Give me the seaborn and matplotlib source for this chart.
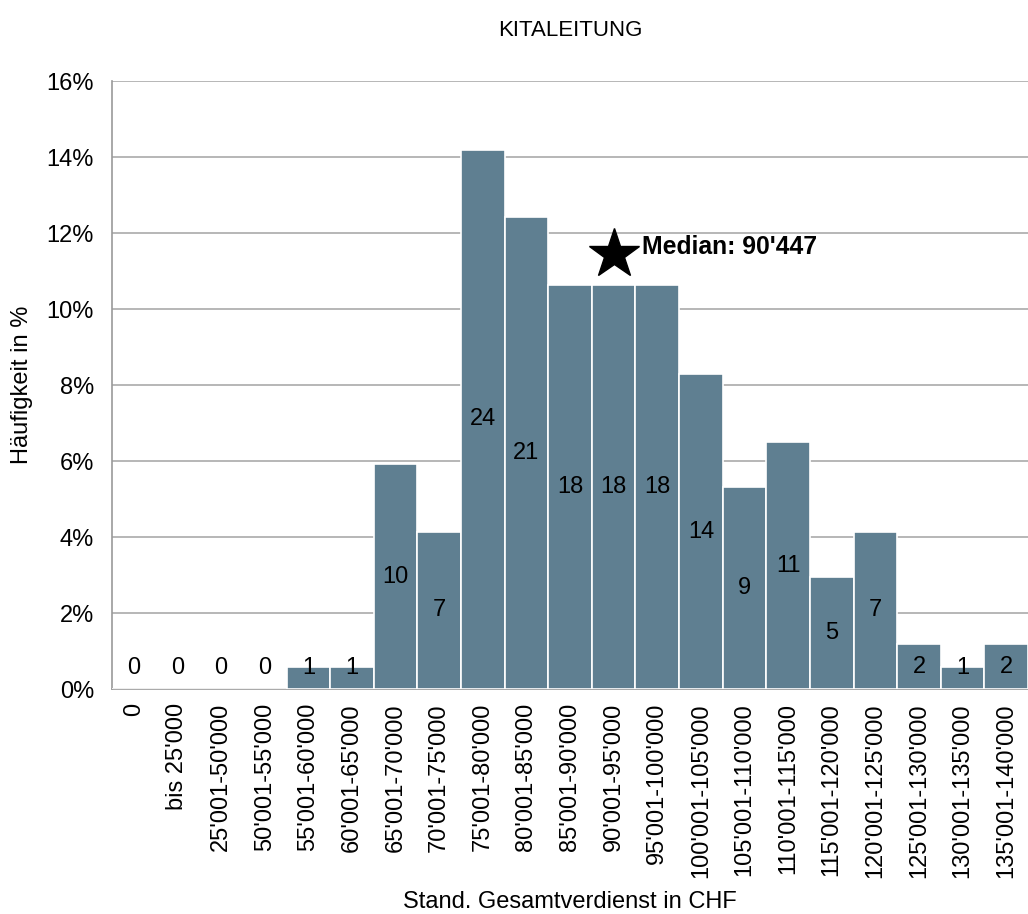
import numpy as np
import pandas as pd
import seaborn as sns
import matplotlib.pyplot as plt

categories = ["0", "bis 25'000", "25'001-50'000", "50'001-55'000", "55'001-60'000",
              "60'001-65'000", "65'001-70'000", "70'001-75'000", "75'001-80'000",
              "80'001-85'000", "85'001-90'000", "90'001-95'000", "95'001-100'000",
              "100'001-105'000", "105'001-110'000", "110'001-115'000", "115'001-120'000",
              "120'001-125'000", "125'001-130'000", "130'001-135'000", "135'001-140'000"]
counts = [0, 0, 0, 0, 1, 1, 10, 7, 24, 21, 18, 18, 18, 14, 9, 11, 5, 7, 2, 1, 2]
median_label = "Median: 90'447"
median_cat = "90'001-95'000"
median_y = 11.45

total = sum(counts)
data = pd.DataFrame({'Klasse': categories,
                     'Anteil': [c / total * 100 for c in counts],
                     'n': counts})

sns.set_style('white')
plt.rcParams['font.family'] = ['Liberation Sans', 'DejaVu Sans']
plt.rcParams['text.color'] = 'black'
plt.rcParams['axes.labelcolor'] = 'black'
plt.rcParams['xtick.color'] = 'black'
plt.rcParams['ytick.color'] = 'black'

fs = 17

fig = plt.figure(figsize=(10.28, 9.14), dpi=100)
ax = fig.add_axes([0.109, 0.246, 0.891, 0.665])

sns.barplot(data=data, x='Klasse', y='Anteil', color='#5F7F91', saturation=1,
            width=1.0, edgecolor='white', linewidth=1.2, ax=ax, zorder=3)

for i, row in data.iterrows():
    ax.text(i, max(row['Anteil'] / 2, 0.55), str(row['n']),
            ha='center', va='center', fontsize=fs, color='black', zorder=4)

mx = categories.index(median_cat)
ax.plot(mx, median_y, marker='*', color='black', markersize=38, zorder=5,
        clip_on=False)
ax.text(mx + 0.65, median_y + 0.2, median_label, fontsize=17.8, fontweight='bold',
        ha='left', va='center', zorder=5)

ax.set_ylim(0, 16)
ax.set_xlim(-0.5, len(categories) - 0.5)
ax.set_yticks(np.arange(0, 17, 2))
ax.set_yticklabels([f'{v}%' for v in range(0, 17, 2)], fontsize=fs)
ax.tick_params(axis='x', labelrotation=90, labelsize=fs, length=0, pad=10)
ax.tick_params(axis='y', length=0, pad=13)
ax.yaxis.grid(True, color='#AAAAAA', linewidth=1.2, zorder=0)
ax.set_axisbelow(True)

for s in ['top', 'right']:
    ax.spines[s].set_visible(False)
for s in ['left', 'bottom']:
    ax.spines[s].set_color('#999999')
    ax.spines[s].set_linewidth(1.2)

ax.set_title('KITALEITUNG', fontsize=16, pad=33)
ax.set_ylabel('Häufigkeit in %', fontsize=fs)
ax.yaxis.set_label_coords(-0.098, 0.5)
ax.yaxis.label.set_va('center')
ax.set_xlabel('Stand. Gesamtverdienst in CHF', fontsize=fs)
ax.xaxis.set_label_coords(0.5, -0.35)
ax.xaxis.label.set_va('center')

fig.savefig('out.png', dpi=100)
